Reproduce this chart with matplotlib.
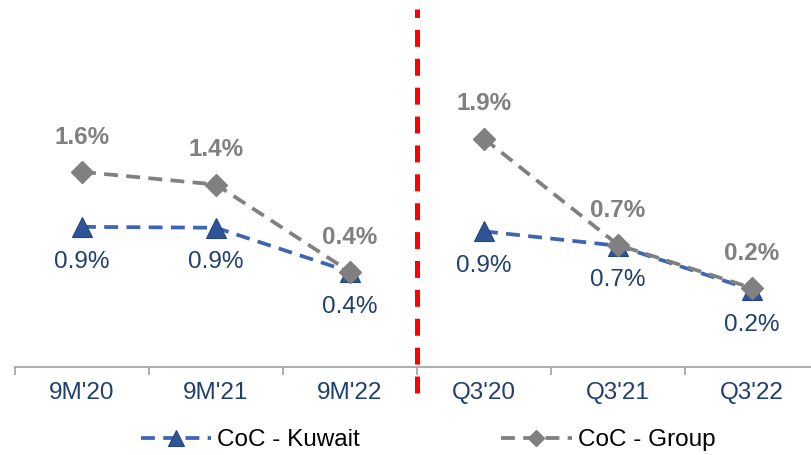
import matplotlib
matplotlib.use("Agg")
import matplotlib.pyplot as plt
import numpy as np

categories = ["9M'20", "9M'21", "9M'22", "Q3'20", "Q3'21", "Q3'22"]
kuwait = [0.89, 0.88, 0.39, 0.84, 0.68, 0.19]
group = [1.50, 1.36, 0.39, 1.87, 0.69, 0.21]
kuwait_labels = ["0.9%", "0.9%", "0.4%", "0.9%", "0.7%", "0.2%"]
group_labels = ["1.6%", "1.4%", "0.4%", "1.9%", "0.7%", "0.2%"]
segments = [[0, 1, 2], [3, 4, 5]]

plt.rcParams['font.family'] = ['Liberation Sans', 'DejaVu Sans']
plt.rcParams['lines.scale_dashes'] = False

W, H = 812, 455
fig = plt.figure(figsize=(W / 100, H / 100), dpi=100)
ax = fig.add_axes([15 / W, (H - 367) / H, 804 / W, 367 / H])

blue_line = '#3F64B2'
blue_fill = '#2F5597'
blue_edge = '#24457F'
navy = '#1F3F6E'
grey = '#808080'

x = np.arange(len(categories))
ax.set_xlim(-0.5, 5.5)
ax.set_ylim(-0.667, 3.41)

for i, seg in enumerate(segments):
    ax.plot([x[j] for j in seg], [kuwait[j] for j in seg], color=blue_line, lw=2.7,
            dashes=(10, 6), marker='^', markersize=15, markerfacecolor=blue_fill,
            markeredgecolor=blue_edge, markeredgewidth=0.8, zorder=3,
            label='CoC - Kuwait' if i == 0 else None)
for i, seg in enumerate(segments):
    ax.plot([x[j] for j in seg], [group[j] for j in seg], color=grey, lw=2.7,
            dashes=(10, 6), marker='D', markersize=11, markerfacecolor=grey,
            markeredgecolor=grey, zorder=4,
            label='CoC - Group' if i == 0 else None)

for xi, v, lab in zip(x, kuwait, kuwait_labels):
    ax.annotate(lab, (xi, v), xytext=(0, -25), textcoords='offset points',
                ha='center', va='center', fontsize=17.5, color=navy)
for xi, v, lab in zip(x, group, group_labels):
    ax.annotate(lab, (xi, v), xytext=(0, 25), textcoords='offset points',
                ha='center', va='center', fontsize=17.5, color=grey, fontweight='bold')

# separator
ax.plot([2.5, 2.5], [-0.071, 0.975], transform=ax.get_xaxis_transform(),
        color='#FF0000', lw=3.6, dashes=(12.2, 8.6), clip_on=False, zorder=5)

for s in ['top', 'right', 'left']:
    ax.spines[s].set_visible(False)
ax.spines['bottom'].set_color('#A6A6A6')
ax.spines['bottom'].set_linewidth(1.3)
ax.set_yticks([])
ax.set_xticks(x)
ax.set_xticklabels(categories)
ax.set_xticks(np.arange(-0.5, 6.0, 1.0), minor=True)
ax.tick_params(axis='x', which='major', length=0, pad=11, labelsize=17.5, labelcolor=navy)
ax.tick_params(axis='x', which='minor', length=5.5, width=1.3, color='#A6A6A6', direction='out')

fig.legend(loc='center', bbox_to_anchor=(428 / W, 1 - 440 / H), ncol=2, frameon=False,
           fontsize=17.5, handlelength=2.9, handletextpad=0.25, columnspacing=5.8,
           numpoints=1, markerscale=0.75, borderpad=0, borderaxespad=0)

fig.savefig('out.png', dpi=100)
